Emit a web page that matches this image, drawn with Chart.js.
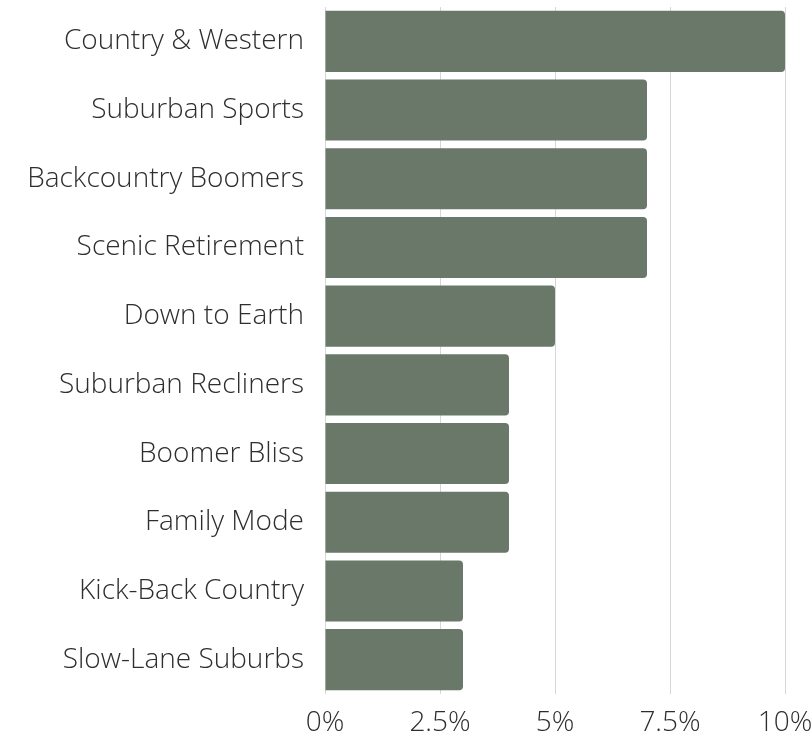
<!DOCTYPE html>
<html>
<head>
<meta charset="utf-8">
<script src="https://cdn.jsdelivr.net/npm/chart.js@4/dist/chart.umd.min.js"></script>
<style>
    html, body { margin: 0; padding: 0; background: #fff; }
    #wrap { width: 812px; height: 741px; }
</style>
</head>
<body>
<div id="wrap"><canvas id="segmentChart"></canvas></div>
<script>
// Segment shares (percent)
const segments = [
    'Country & Western',
    'Suburban Sports',
    'Backcountry Boomers',
    'Scenic Retirement',
    'Down to Earth',
    'Suburban Recliners',
    'Boomer Bliss',
    'Family Mode',
    'Kick-Back Country',
    'Slow-Lane Suburbs'
];
const shares = [10, 7, 7, 7, 5, 4, 4, 4, 3, 3];
const xTicks = [0, 2.5, 5, 7.5, 10];

const labelFont = { family: 'Open Sans', size: 28, weight: '300' };

const ctx = document.getElementById('segmentChart').getContext('2d');

new Chart(ctx, {
    type: 'bar',
    data: {
        labels: segments,
        datasets: [{
            data: shares,
            backgroundColor: '#6a7869',
            borderWidth: 0,
            borderRadius: { topRight: 4, bottomRight: 4 },
            borderSkipped: 'start',
            categoryPercentage: 0.89,
            barPercentage: 1
        }]
    },
    options: {
        indexAxis: 'y',
        responsive: true,
        maintainAspectRatio: false,
        animation: false,
        layout: {
            padding: { top: 7, right: 27, bottom: 2, left: 0 }
        },
        plugins: {
            legend: { display: false },
            tooltip: { enabled: false }
        },
        scales: {
            x: {
                min: 0,
                max: 10,
                afterBuildTicks: function(scale) {
                    scale.ticks = xTicks.map(v => ({ value: v }));
                },
                afterFit: function(scale) {
                    // fixed axis band; side margins come from layout padding
                    scale.height = 45;
                    scale.paddingLeft = 0;
                    scale.paddingRight = 0;
                },
                grid: {
                    color: '#d6d6d6',
                    drawTicks: false
                },
                border: { display: false },
                ticks: {
                    padding: 12,
                    color: '#2e2e2e',
                    font: labelFont,
                    maxRotation: 0,
                    callback: function(value) {
                        return value + '%';
                    }
                }
            },
            y: {
                afterFit: function(scale) {
                    scale.width = 325;
                    scale.paddingTop = 0;
                    scale.paddingBottom = 0;
                },
                grid: { display: false, drawTicks: false },
                border: { display: false },
                ticks: {
                    padding: 21,
                    color: '#2e2e2e',
                    font: labelFont
                }
            }
        }
    }
});
</script>
</body>
</html>
